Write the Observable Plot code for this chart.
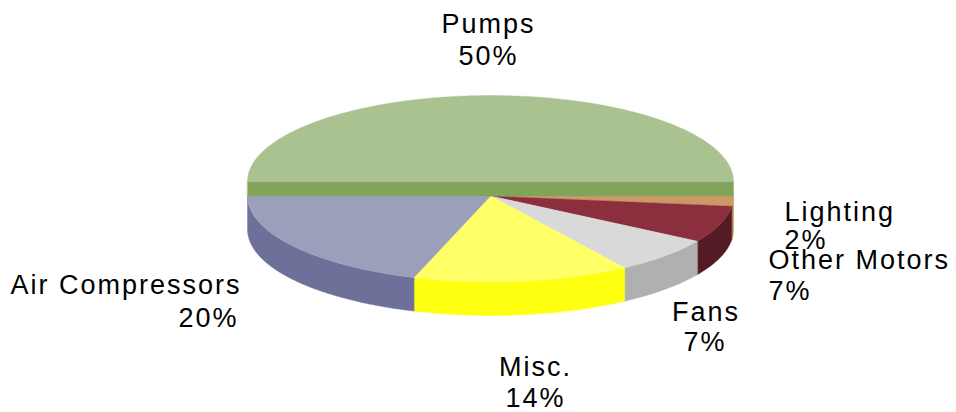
<!DOCTYPE html>
<html>
<head>
<meta charset="utf-8">
<script src="https://cdn.jsdelivr.net/npm/d3@7"></script>
<script src="https://cdn.jsdelivr.net/npm/@observablehq/plot@0.6"></script>
<style>
html,body{margin:0;padding:0;background:#fff}
svg{display:block}
</style>
</head>
<body>
<div id="chart"></div>
<script>
// Data, in drawing order clockwise from the left of the pie
const categories = ["Pumps", "Lighting", "Other Motors", "Fans", "Misc.", "Air Compressors"];
const shares = [50, 1.9, 6.9, 6.9, 14.4, 19.9];

// Styles
const topColors = ["#a9c290", "#cc9966", "#8b2f3f", "#d9d9d9", "#ffff66", "#9b9fb9"];
const sideColors = ["#82a35a", "#c08a50", "#541b27", "#b0b0b0", "#ffff10", "#6d7199"];

// Label layout in pixels
const nameX = [488, 784, 768, 705.5, 535, 241];
const nameY = [24, 211.5, 260, 311.5, 367, 285];
const pctX = [488, 784, 768, 704.5, 535, 238];
const pctY = [56, 240, 291, 341.5, 398, 318];
const labelAnchor = ["middle", "start", "start", "middle", "middle", "end"];

// Pie geometry, in pixels
const W = 956, H = 412, cx = 490, cy = 195.5, rx = 243, ry = 86, depth = 33.5, lift = 14.5;
const unitDepth = depth / ry, unitLift = lift / ry;
const xScale = {domain: [-1, 1], range: [cx - rx, cx + rx]};
const yScale = {domain: [-1, 1], range: [cy - ry, cy + ry]};

const total = d3.sum(shares);
const cumul = d3.cumsum(shares);
const polys = [];
function poly(id, color, pts) { pts.forEach(([x, y]) => polys.push({id, color, x, y})); }
function arc(a0, a1, off) {
  const n = Math.max(2, Math.ceil(Math.abs(a1 - a0) / 0.01));
  return d3.range(n + 1).map(i => {
    const a = a0 + (a1 - a0) * i / n;
    return [Math.cos(a), Math.sin(a) + off];
  });
}
const slices = categories.map((name, i) => {
  const a0 = Math.PI + 2 * Math.PI * (i ? cumul[i - 1] : 0) / total;
  const a1 = Math.PI + 2 * Math.PI * cumul[i] / total;
  return {name, i, a0, a1};
});
// outer walls of the lower slices
slices.slice(1).forEach(s => {
  poly("side" + s.i, sideColors[s.i], [...arc(s.a0, s.a1, 0), ...arc(s.a1, s.a0, unitDepth)]);
});
// tops of the lower slices
slices.slice(1).forEach(s => {
  poly("top" + s.i, topColors[s.i], [[0, 0], ...arc(s.a0, s.a1, 0)]);
});
// the lifted half: its flat cut face, then its top
const p = slices[0];
poly("face0", sideColors[0], [[-1, -unitLift], [1, -unitLift], [1, 0], [-1, 0]]);
poly("top0", topColors[0], arc(p.a0, p.a1, -unitLift));

const xInv = px => (px - cx) / rx;
const yInv = py => (py - cy) / ry;
const labels = categories.flatMap((name, i) => [
  {text: name, px: nameX[i], py: nameY[i], anchor: labelAnchor[i]},
  {text: Math.round(shares[i]) + "%", px: pctX[i], py: pctY[i], anchor: labelAnchor[i]}
]);

const marks = [
  Plot.line(polys, {x: "x", y: "y", z: "id", fill: "color", stroke: "color", strokeWidth: 0.4, curve: "linear-closed"})
];
for (const anchor of ["start", "middle", "end"]) {
  marks.push(Plot.text(labels.filter(d => d.anchor === anchor), {
    x: d => xInv(d.px), y: d => yInv(d.py), text: "text", textAnchor: anchor,
    lineAnchor: "middle", fill: "#000"
  }));
}

const chart = Plot.plot({
  width: W, height: H,
  marginTop: 0, marginRight: 0, marginBottom: 0, marginLeft: 0,
  x: {...xScale, axis: null},
  y: {...yScale, axis: null},
  color: {type: "identity"},
  style: {fontFamily: "'Liberation Sans', Arial, sans-serif", fontSize: "27px", letterSpacing: "2px", background: "#fff", overflow: "visible"},
  marks
});
document.getElementById("chart").append(chart);
</script>
</body>
</html>
